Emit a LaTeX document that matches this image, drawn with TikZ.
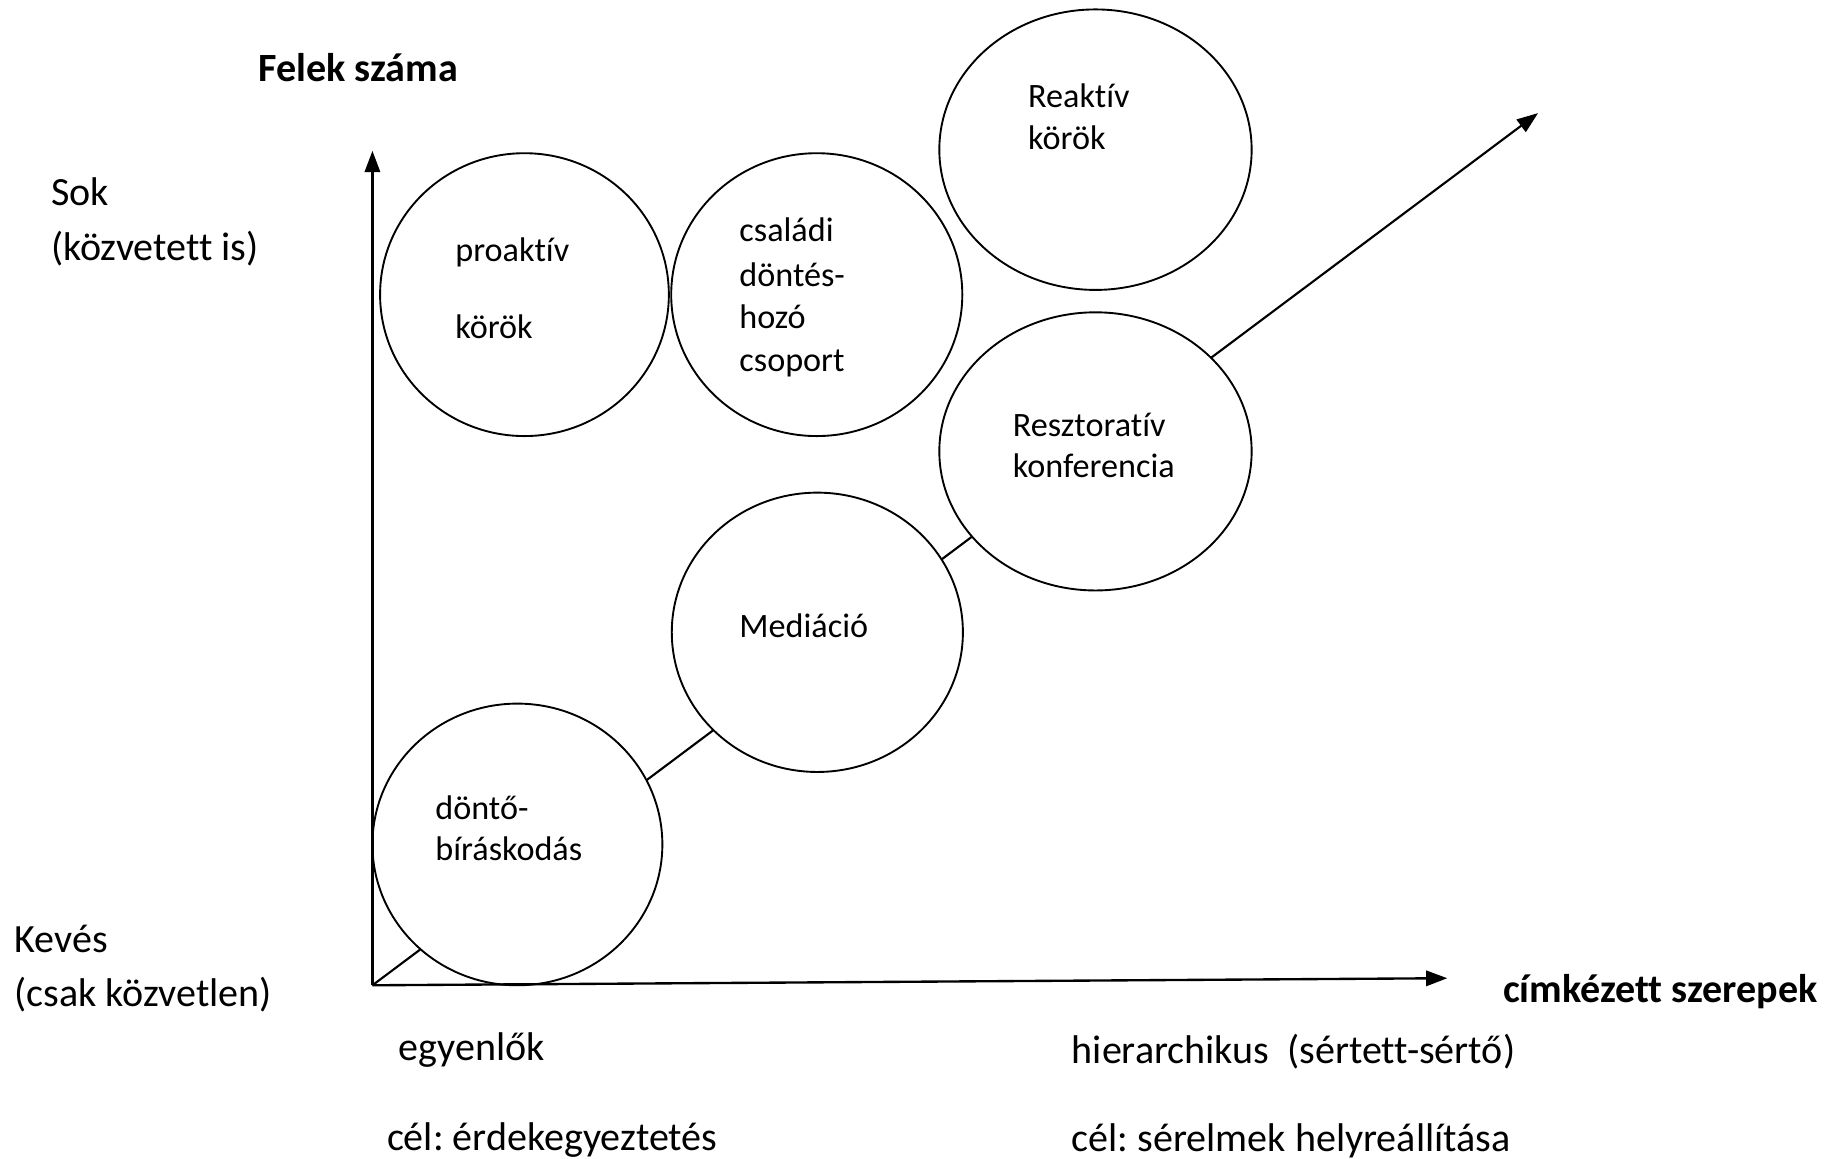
\documentclass[tikz,border=0pt]{standalone}
\usepackage{fontspec}
\setmainfont{Carlito}[Ligatures=NoCommon]
\usetikzlibrary{arrows.meta,shapes.geometric}
\frenchspacing
\begin{document}
\begin{tikzpicture}[x=0.5pt,y=-0.5pt,
  circ/.style={ellipse,draw,line width=0.8pt,fill=white,inner sep=0pt},
  axisarrow/.style={line width=1pt,-{Triangle[length=9pt,width=6.5pt]}},
  lbl/.style={anchor=base west,inner sep=0pt,font=\fontsize{17}{20}\selectfont},
  blbl/.style={anchor=base west,inner sep=0pt,font=\fontsize{17}{20}\selectfont\bfseries},
  ctext/.style={anchor=base west,inner sep=0pt,font=\fontsize{14.5}{17}\selectfont}]
\useasboundingbox (0,0) rectangle (1568,983);
\coordinate (O) at (316,836);
\coordinate (Ytip) at (316,128);
\coordinate (Xtip) at (1228,830);
\coordinate (Dtip) at (1305,96);
% diagonal line (hidden inside circles)
\draw[axisarrow,line width=0.9pt] (O) -- (Dtip);
% circles
\node[circ,minimum width=122.5pt,minimum height=120pt] (proak) at (445,250) {};
\node[circ,minimum width=123.5pt,minimum height=120pt] (csal) at (693,250) {};
\node[circ,minimum width=132.5pt,minimum height=119pt] (reakt) at (929.5,127) {};
\node[circ,minimum width=132.5pt,minimum height=118pt] (reszt) at (929.5,383) {};
\node[circ,minimum width=123.5pt,minimum height=118.5pt] (med) at (693.5,536.5) {};
\node[circ,minimum width=123pt,minimum height=119.5pt] (dont) at (439,716.5) {};
% axes
\draw[axisarrow] (O) -- (Ytip);
\draw[axisarrow] (O) -- (Xtip);
% circle texts
\node[ctext] (t1a) at (386,222) {proaktív};
\node[ctext] (t1b) at (386,287) {körök};
\node[ctext] (t2a) at (627,205) {családi};
\node[ctext] (t2b) at (627,243) {döntés-};
\node[ctext] (t2c) at (627,279) {hozó};
\node[ctext] (t2d) at (627,315) {csoport};
\node[ctext] (t3a) at (872,91) {Reaktív};
\node[ctext] (t3b) at (872,127) {körök};
\node[ctext] (t4a) at (859,370) {Resztoratív};
\node[ctext] (t4b) at (859,405) {konferencia};
\node[ctext] (t5) at (627,541) {Mediáció};
\node[ctext] (t6a) at (369,695) {döntő-};
\node[ctext] (t6b) at (369,730) {bíráskodás};
% outer labels
\node[blbl] (ylab) at (219,69) {Felek száma};
\node[lbl] (sok) at (43,174) {Sok};
\node[lbl] (sok2) at (43,221) {(közvetett is)};
\node[lbl] (kev) at (12,808) {Kevés};
\node[lbl] (kev2) at (12,854) {(csak közvetlen)};
\node[blbl] (xlab) at (1275,851) {címkézett szerepek};
\node[lbl] (eq) at (338,900) {egyenlők};
\node[lbl] (eq2) at (328,976) {cél: érdekegyeztetés};
\node[lbl] (hi) at (909,902) {hierarchikus~~(sértett-sértő)};
\node[lbl] (hi2) at (909,977) {cél: sérelmek helyreállítása};
\end{tikzpicture}
\end{document}
